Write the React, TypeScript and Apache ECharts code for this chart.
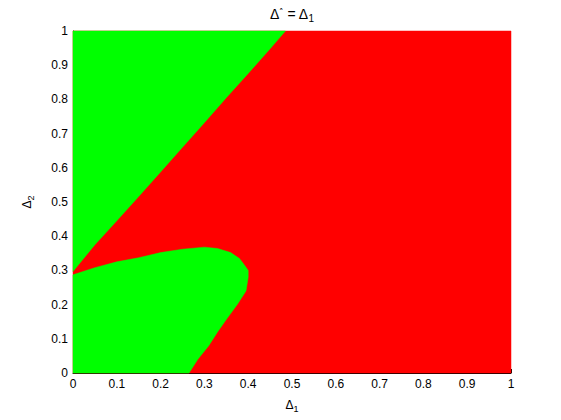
import React, { useEffect, useRef } from "react";
import * as echarts from "echarts";

// Upper boundary of the red wedge (green above/left of it): [Δ1, Δ2]
const upperBoundaryX = [0, 0.05, 0.1, 0.15, 0.2, 0.25, 0.3, 0.35, 0.4, 0.45, 0.485];
const upperBoundaryY = [0.297, 0.375, 0.445, 0.516, 0.588, 0.66, 0.732, 0.805, 0.876, 0.948, 1.0];

// Lower green lobe: right edge (bottom to top) then top edge (right to left)
const lobeRightX = [0.265, 0.285, 0.31, 0.33, 0.352, 0.375, 0.395, 0.4, 0.4];
const lobeRightY = [0, 0.04, 0.08, 0.12, 0.16, 0.2, 0.24, 0.28, 0.3];
const lobeTopX = [0.39, 0.38, 0.36, 0.33, 0.3, 0.25, 0.2, 0.15, 0.1, 0.05, 0];
const lobeTopY = [0.318, 0.335, 0.352, 0.364, 0.368, 0.362, 0.352, 0.337, 0.325, 0.308, 0.287];

const tickValues = [0, 0.1, 0.2, 0.3, 0.4, 0.5, 0.6, 0.7, 0.8, 0.9, 1];

const RED = "#ff0000";
const GREEN = "#00ff00";

function zip(xs: number[], ys: number[]): number[][] {
  return xs.map((x, i) => [x, ys[i]]);
}

const redRegion = [
  [0, 0],
  [1, 0],
  [1, 1],
  [0, 1],
];
const upperGreenRegion = [...zip(upperBoundaryX, upperBoundaryY), [0, 1]];
const lobeGreenRegion = [[0, 0], ...zip(lobeRightX, lobeRightY), ...zip(lobeTopX, lobeTopY)];

function polySeries(name: string, pts: number[][], color: string) {
  return {
    type: "custom",
    name,
    coordinateSystem: "cartesian2d",
    data: pts,
    renderItem: (params: any, api: any) => {
      if (params.dataIndex !== 0) return null;
      const points = pts.map((p) => api.coord(p));
      return {
        type: "polygon",
        shape: { points },
        style: { fill: color, stroke: color, lineWidth: 0.5 },
      };
    },
    encode: { x: 0, y: 1 },
    silent: true,
  };
}

export default function App() {
  const ref = useRef<HTMLDivElement>(null);
  useEffect(() => {
    if (!ref.current) return;
    const chart = echarts.init(ref.current, undefined, { renderer: "svg" });
    const font = "Liberation Sans, Arial, sans-serif";
    const axisCommon = {
      type: "value",
      min: 0,
      max: 1,
      interval: 0.1,
      axisLine: { show: true, lineStyle: { color: "#000", width: 1 } },
      axisTick: { show: true, inside: true, length: 4, lineStyle: { color: "#000" } },
      splitLine: { show: false },
      axisLabel: {
        color: "#000",
        fontSize: 12,
        fontFamily: font,
        formatter: (v: number) => {
          const t = tickValues.find((k) => Math.abs(k - v) < 1e-9);
          return t === undefined ? "" : String(t);
        },
      },
      nameLocation: "middle",
      nameTextStyle: {
        color: "#000",
        fontSize: 12,
        fontFamily: font,
        rich: {
          b: { fontSize: 12, fontFamily: font, color: "#000" },
          sub: { fontSize: 9, fontFamily: font, color: "#000", padding: [7, 0, 0, 0] },
        },
      },
    };
    chart.setOption({
      animation: false,
      backgroundColor: "#fff",
      title: {
        text: "{b|Δ}{sup|*}{b| = Δ}{sub|1}",
        left: 287,
        textAlign: "center",
        top: 0,
        textStyle: {
          fontSize: 14,
          fontWeight: "normal",
          fontFamily: font,
          color: "#000",
          rich: {
            b: { fontSize: 14, fontFamily: font, color: "#000" },
            sup: { fontSize: 10, fontFamily: font, color: "#000", padding: [0, 0, 7, 0] },
            sub: { fontSize: 10, fontFamily: font, color: "#000", padding: [8, 0, 0, 0] },
          },
        },
      },
      grid: { left: 73, right: 50, top: 31, bottom: 47, containLabel: false },
      xAxis: {
        ...axisCommon,
        name: "{b|Δ}{sub|1}",
        nameGap: 24,
        axisLabel: { ...axisCommon.axisLabel, margin: 5 },
      },
      yAxis: {
        ...axisCommon,
        name: "{b|Δ}{sub|2}",
        nameGap: 38,
        nameRotate: 90,
        axisLabel: { ...axisCommon.axisLabel, margin: 5 },
      },
      series: [
        polySeries("red", redRegion, RED),
        polySeries("green-upper", upperGreenRegion, GREEN),
        polySeries("green-lobe", lobeGreenRegion, GREEN),
      ],
    });
    return () => chart.dispose();
  }, []);
  return <div ref={ref} style={{ width: 561, height: 420, margin: -8 }} />;
}
